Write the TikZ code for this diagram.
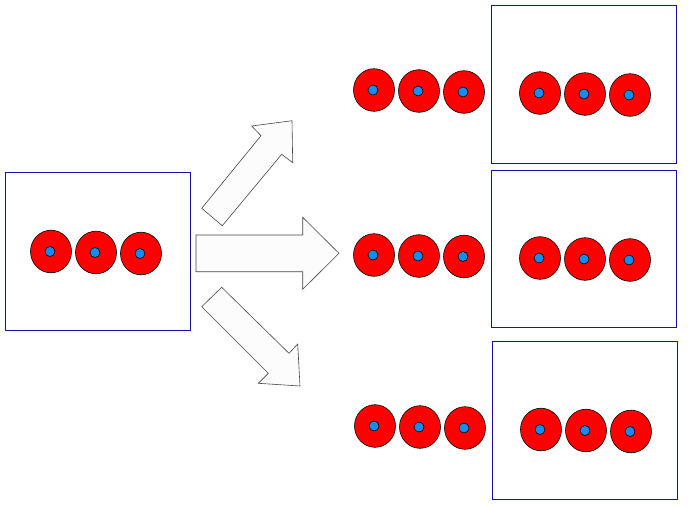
\documentclass[tikz,border=0pt]{standalone}
\definecolor{boxblue}{RGB}{20,20,170}
\definecolor{dotblue}{RGB}{20,140,240}
\definecolor{arrowfill}{RGB}{252,252,252}
\definecolor{arrowline}{RGB}{70,70,70}
\tikzset{
  ring/.pic={
    \draw[fill=red, draw=black, line width=0.6pt] (0,0) ellipse [x radius=20.5, y radius=21.3];
    \draw[fill=dotblue, draw=black, line width=0.6pt] (-1,0) circle [radius=5];
  },
  framebox/.style={draw=boxblue, line width=0.7pt, fill=white},
  bigarrow/.style={draw=arrowline, fill=arrowfill, line width=0.6pt, line join=miter}
}
\begin{document}
\begin{tikzpicture}[x=1pt,y=-1pt]
\useasboundingbox (0,0) rectangle (688,507);
% boxes
\draw[framebox] (5,172) rectangle (190.5,330);
\draw[framebox] (491,5.5) rectangle (676.5,163);
\draw[framebox] (491,170.5) rectangle (676.5,327.5);
\draw[framebox] (492.3,341.7) rectangle (677.3,499);
% left rings
\pic at (51,251.5) {ring};
\pic at (96,252.5) {ring};
\pic at (141,253.5) {ring};
% top group
\pic at (374,90) {ring};
\pic at (419,91) {ring};
\pic at (464,92) {ring};
\pic at (540,93) {ring};
\pic at (585,94) {ring};
\pic at (630,95) {ring};
% middle group
\pic at (374,255) {ring};
\pic at (419,256) {ring};
\pic at (464,256.5) {ring};
\pic at (540,258) {ring};
\pic at (585,259) {ring};
\pic at (630,260) {ring};
% bottom group
\pic at (375,426) {ring};
\pic at (420,427) {ring};
\pic at (465,428) {ring};
\pic at (541,429.5) {ring};
\pic at (586,430.5) {ring};
\pic at (631,431.5) {ring};
% arrows
\draw[bigarrow] (201.7,208.3) -- (261,135.7) -- (251.7,126) -- (292,120.7) -- (292.7,162.7) -- (281.7,154.3) -- (222.3,225.7) -- cycle;
\draw[bigarrow] (196,235) -- (302.7,235) -- (302.7,217.3) -- (339,253.3) -- (302.7,289.3) -- (302.7,271.7) -- (196,271.7) -- cycle;
\draw[bigarrow] (221.7,287.3) -- (289,353.3) -- (297.7,344) -- (300,386) -- (258.3,383.3) -- (268.3,373.3) -- (201.7,306.7) -- cycle;
\end{tikzpicture}
\end{document}
